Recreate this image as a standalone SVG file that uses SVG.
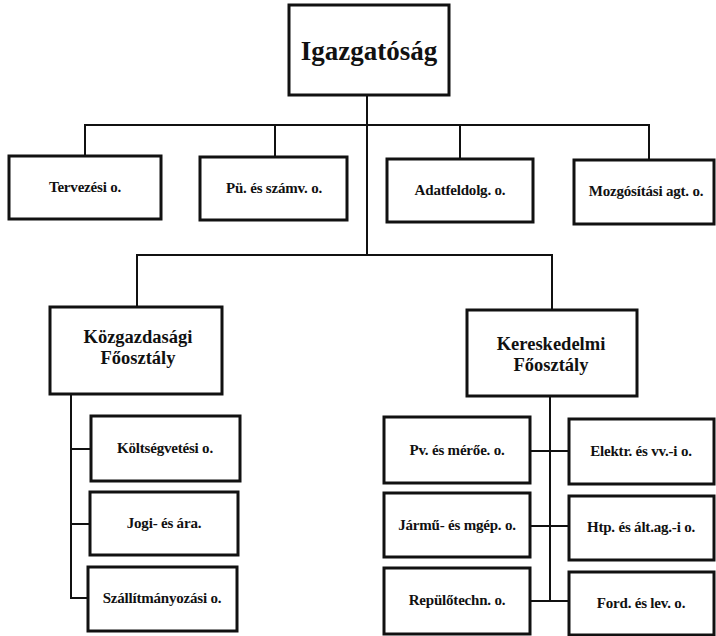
<svg xmlns="http://www.w3.org/2000/svg" width="716" height="636" viewBox="0 0 716 636">
<style>
.box{fill:#fff;stroke:#111;stroke-width:3}
.ln{fill:none;stroke:#111;stroke-width:2}
.t{font-family:'Liberation Serif','Tinos','Times New Roman','DejaVu Serif',serif;font-weight:700;fill:#111;text-anchor:middle}
.s{font-size:15px;letter-spacing:-0.2px}
.m{font-size:18.5px}
.l{font-size:27px}
</style>
<rect width="716" height="636" fill="#fff"/>
<g id="connectors">
<path class="ln" d="M367 95V255"/>
<path class="ln" d="M85 157V125H649V160"/>
<path class="ln" d="M275 125V157"/>
<path class="ln" d="M460 125V159"/>
<path class="ln" d="M137 307V255H552V310"/>
<path class="ln" d="M71 394V598H90"/>
<path class="ln" d="M71 449H91"/>
<path class="ln" d="M71 524H90"/>
<path class="ln" d="M550 396V601"/>
<path class="ln" d="M530 451H569"/>
<path class="ln" d="M530 526H569"/>
<path class="ln" d="M530 601H569"/>
</g>
<g id="igazgatosag"><rect class="box" x="289" y="5" width="160" height="90"/><text class="t l" x="369" y="60">Igazgatóság</text></g>
<g id="tervezesi"><rect class="box" x="9" y="156" width="152" height="63"/><text class="t s" x="85" y="192">Tervezési o.</text></g>
<g id="pu"><rect class="box" x="200" y="157" width="147" height="63"/><text class="t s" x="274" y="193">Pü. és számv. o.</text></g>
<g id="adatfeldolg"><rect class="box" x="387" y="159" width="146" height="63"/><text class="t s" x="460" y="195">Adatfeldolg. o.</text></g>
<g id="mozgositasi"><rect class="box" x="574" y="160" width="140" height="64"/><text class="t s" x="646" y="196">Mozgósítási agt. o.</text></g>
<g id="kozgazdasagi"><rect class="box" x="50" y="307" width="172" height="87"/><text class="t m" x="138" y="343">Közgazdasági</text><text class="t m" x="138" y="364">Főosztály</text></g>
<g id="kereskedelmi"><rect class="box" x="467" y="310" width="170" height="86"/><text class="t m" x="551" y="350">Kereskedelmi</text><text class="t m" x="551" y="371">Főosztály</text></g>
<g id="koltsegvetesi"><rect class="box" x="91" y="416" width="149" height="65"/><text class="t s" x="165" y="453">Költségvetési o.</text></g>
<g id="jogi"><rect class="box" x="90" y="492" width="148" height="63"/><text class="t s" x="164" y="528">Jogi- és ára.</text></g>
<g id="szallitmanyozasi"><rect class="box" x="88" y="567" width="149" height="64"/><text class="t s" x="162" y="603">Szállítmányozási o.</text></g>
<g id="pv"><rect class="box" x="384" y="417" width="146" height="66"/><text class="t s" x="457" y="455">Pv. és mérőe. o.</text></g>
<g id="jarmu"><rect class="box" x="384" y="493" width="146" height="64"/><text class="t s" x="457" y="530">Jármű- és mgép. o.</text></g>
<g id="repulotechn"><rect class="box" x="384" y="568" width="146" height="66"/><text class="t s" x="457" y="605">Repülőtechn. o.</text></g>
<g id="elektr"><rect class="box" x="569" y="419" width="145" height="65"/><text class="t s" x="641" y="456">Elektr. és vv.-i o.</text></g>
<g id="htp"><rect class="box" x="569" y="496" width="145" height="64"/><text class="t s" x="641" y="532">Htp. és ált.ag.-i o.</text></g>
<g id="ford"><rect class="box" x="569" y="572" width="145" height="63"/><text class="t s" x="641" y="608">Ford. és lev. o.</text></g>
</svg>
